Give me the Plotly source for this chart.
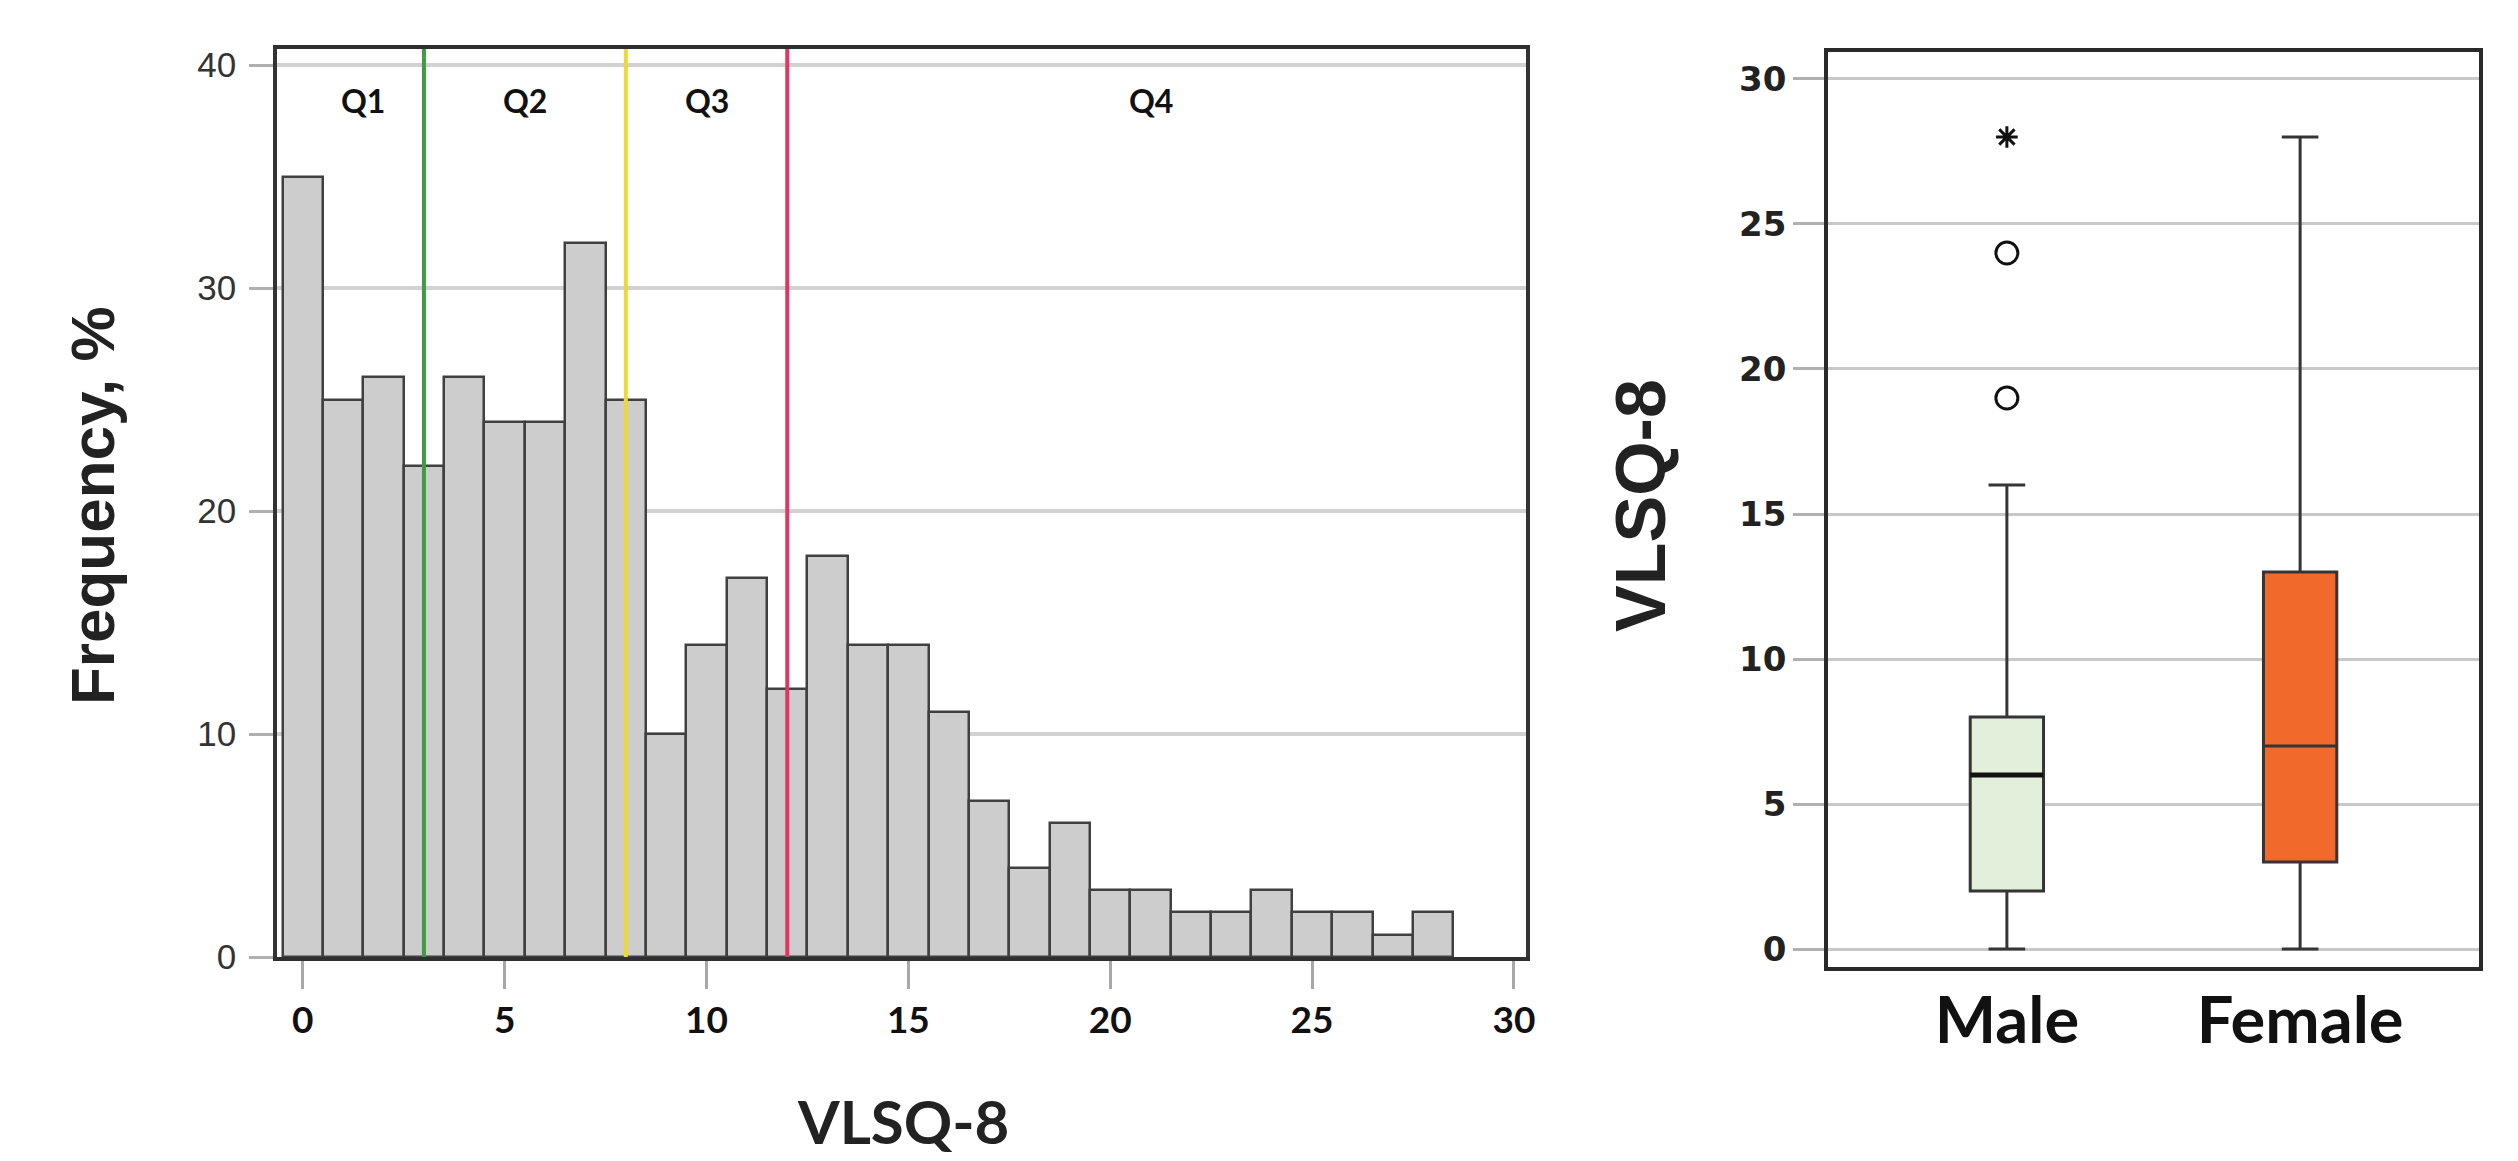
import plotly.graph_objects as go

# ---------------- data ----------------
scores = list(range(0, 29))
frequency = [35, 25, 26, 22, 26, 24, 24, 32, 25, 10, 14, 17, 12, 18, 14, 14, 11,
             7, 4, 6, 3, 3, 2, 2, 3, 2, 2, 1, 2]
quartile_cutoffs = [3, 8, 12]
quartile_labels = ["Q1", "Q2", "Q3", "Q4"]
cutoff_colors = ["#3f9b3f", "#ecd934", "#e2355f"]
hist_xticks = [0, 5, 10, 15, 20, 25, 30]
hist_yticks = [0, 10, 20, 30, 40]

groups = ["Male", "Female"]
box_q1 = [2, 3]
box_median = [6, 7]
box_q3 = [8, 13]
box_lower = [0, 0]
box_upper = [16, 28]
box_fill = ["#E2EFDA", "#F26A2B"]
male_outliers = [19, 24]
male_extremes = [28]
box_yticks = [0, 5, 10, 15, 20, 25, 30]

# page body has an 8px margin: the figure is drawn at (8, 8)
OFF = 8
FW, FH = 2518 - OFF, 1161 - OFF
BOX_W = 0.25


def px_x(p):
    return (p - OFF) / FW


def px_y(p):
    return 1 - (p - OFF) / FH


fig = go.Figure()

# histogram bars
fig.add_trace(go.Bar(
    x=scores, y=frequency, width=1,
    marker=dict(color="#CDCDCD", line=dict(color="#404040", width=2.5)),
    xaxis="x", yaxis="y", showlegend=False, hoverinfo="x+y"))

# box plots
for i, g in enumerate(groups):
    fig.add_trace(go.Box(
        x=[i], q1=[box_q1[i]], median=[box_median[i]], q3=[box_q3[i]],
        lowerfence=[box_lower[i]], upperfence=[box_upper[i]],
        width=BOX_W, whiskerwidth=0.5, boxpoints=False,
        fillcolor=box_fill[i], line=dict(color="#353535", width=3),
        name=g, xaxis="x2", yaxis="y2", showlegend=False))

# thicker male median
fig.add_trace(go.Scatter(
    x=[0 - BOX_W / 2, 0 + BOX_W / 2], y=[box_median[0]] * 2, mode="lines",
    line=dict(color="#111111", width=5), xaxis="x2", yaxis="y2",
    showlegend=False, hoverinfo="skip"))

# outliers
fig.add_trace(go.Scatter(
    x=[0] * len(male_outliers), y=male_outliers, mode="markers",
    marker=dict(symbol="circle-open", size=22, color="#111111",
                line=dict(width=3, color="#111111")),
    xaxis="x2", yaxis="y2", showlegend=False))
fig.add_trace(go.Scatter(
    x=[0] * len(male_extremes), y=male_extremes, mode="markers",
    marker=dict(symbol="asterisk-open", size=18, color="#111111",
                line=dict(width=3, color="#111111")),
    xaxis="x2", yaxis="y2", showlegend=False))

# quartile cut-off lines
shapes = []
for c, col in zip(quartile_cutoffs, cutoff_colors):
    shapes.append(dict(type="line", xref="x", yref="y domain", x0=c, x1=c,
                       y0=0, y1=1, line=dict(color=col, width=4), layer="above"))

# quartile labels at the middle of each segment
bounds = [0] + quartile_cutoffs + [30]
annotations = []
for k, lab in enumerate(quartile_labels):
    annotations.append(dict(
        x=(bounds[k] + bounds[k + 1]) / 2, y=38.4, xref="x", yref="y",
        text=lab, showarrow=False, xanchor="center", yanchor="middle",
        font=dict(family="Lato", size=32, color="#111111", weight="bold")))

# axis titles
annotations.append(dict(
    x=px_x(92), y=px_y(506), xref="paper", yref="paper", text="Frequency, %",
    textangle=-90, showarrow=False, xanchor="center", yanchor="middle",
    font=dict(family="Liberation Sans", size=62, color="#222222", weight="bold")))
annotations.append(dict(
    x=px_x(903), y=px_y(1121), xref="paper", yref="paper", text="VLSQ-8",
    showarrow=False, xanchor="center", yanchor="middle",
    font=dict(family="Lato", size=60, color="#222222", weight="bold")))
annotations.append(dict(
    x=px_x(1641), y=px_y(506), xref="paper", yref="paper", text="VLSQ-8",
    textangle=-90, showarrow=False, xanchor="center", yanchor="middle",
    font=dict(family="Liberation Sans", size=70, color="#222222", weight="bold")))

fig.update_layout(
    width=FW, height=FH, margin=dict(l=0, r=0, t=0, b=0),
    paper_bgcolor="white", plot_bgcolor="white", bargap=0,
    shapes=shapes, annotations=annotations,
    xaxis=dict(domain=[px_x(277), px_x(1526)], range=[-0.64, 30.3],
               tickvals=hist_xticks, ticks="outside", ticklen=28, tickwidth=2.5,
               tickcolor="#A8A8A8", showgrid=False, zeroline=False,
               showline=True, linecolor="#2f2f2f", linewidth=4, mirror=True,
               tickfont=dict(family="Lato", size=37, color="#111111", weight="bold"),
               anchor="y", automargin=False),
    yaxis=dict(domain=[px_y(957), px_y(49)], range=[0, 40.72],
               tickvals=hist_yticks, ticks="outside", ticklen=24, tickwidth=3,
               tickcolor="#B0B0B0", showgrid=True, gridcolor="#D2D2D2",
               gridwidth=4, zeroline=False, showline=True, linecolor="#333333",
               linewidth=3.5, mirror=True, ticklabelstandoff=6,
               tickfont=dict(family="Liberation Sans", size=35, color="#333333"),
               anchor="x", automargin=False),
    xaxis2=dict(domain=[px_x(1828), px_x(2479)], range=[-0.61, 1.61],
                tickvals=[0, 1], ticktext=groups, ticks="", showgrid=False,
                zeroline=False, showline=True, linecolor="#2a2a2a", linewidth=3.5,
                mirror=True, ticklabelstandoff=-6,
                tickfont=dict(family="Lato", size=65, color="#111111", weight="bold"),
                anchor="y2", automargin=False),
    yaxis2=dict(domain=[px_y(967), px_y(52)], range=[-0.62, 30.93],
                tickvals=box_yticks, ticks="outside", ticklen=31, tickwidth=2.5,
                tickcolor="#B0B0B0", showgrid=True, gridcolor="#C8C8C8",
                gridwidth=3, zeroline=False, showline=True, linecolor="#2a2a2a",
                linewidth=3.5, mirror=True,
                tickfont=dict(family="DejaVu Sans", size=34, color="#222222",
                              weight="bold"),
                anchor="x2", automargin=False),
)

fig.write_html("out.html")
